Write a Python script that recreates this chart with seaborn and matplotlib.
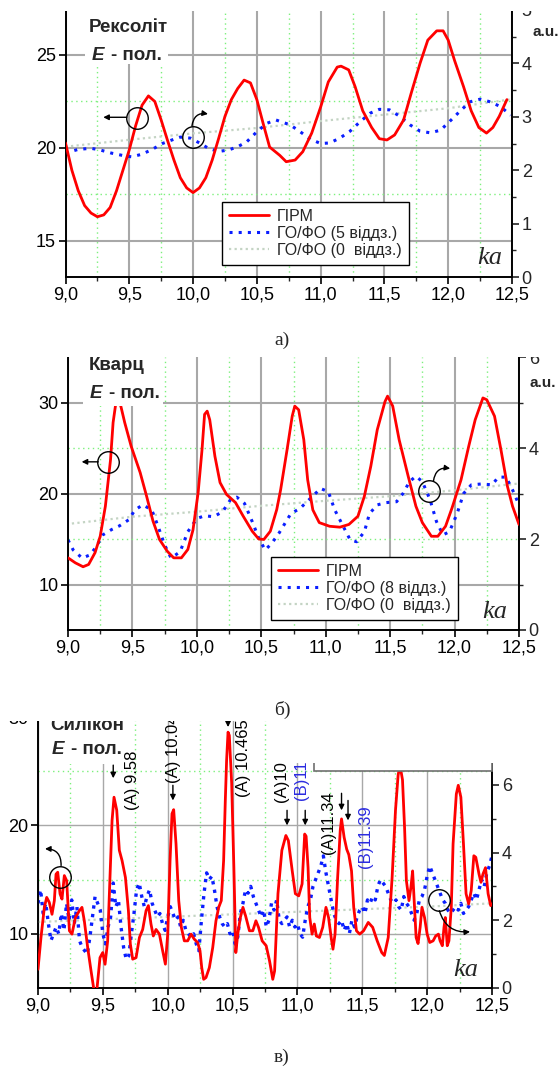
import numpy as np
import matplotlib
matplotlib.use("Agg")
import matplotlib.pyplot as plt
import seaborn as sns
from matplotlib.patches import Rectangle
from matplotlib.lines import Line2D
from matplotlib.ticker import MultipleLocator, FuncFormatter, FixedLocator

# ---------------- data ----------------
# panel a (Рексоліт)
a_red_x = [9.0, 9.05, 9.1, 9.15, 9.2, 9.25, 9.3, 9.35, 9.4, 9.45, 9.5, 9.55, 9.6, 9.65, 9.7, 9.75,
           9.8, 9.85, 9.9, 9.95, 10.0, 10.05, 10.1, 10.15, 10.2, 10.25, 10.3, 10.35, 10.4, 10.45,
           10.5, 10.55, 10.6, 10.68, 10.73, 10.8, 10.86, 10.93, 11.0, 11.06, 11.13, 11.16, 11.22,
           11.27, 11.33, 11.4, 11.46, 11.52, 11.58, 11.65, 11.71, 11.78, 11.84, 11.91, 11.96, 12.0,
           12.05, 12.12, 12.18, 12.24, 12.3, 12.35, 12.4, 12.46]
a_red_y = [20.27, 18.8, 17.7, 16.9, 16.5, 16.3, 16.4, 16.8, 17.7, 18.8, 19.9, 21.2, 22.3, 22.8, 22.5,
           21.5, 20.4, 19.35, 18.4, 17.85, 17.6, 17.85, 18.4, 19.35, 20.5, 21.7, 22.6, 23.2, 23.65,
           23.5, 22.6, 21.3, 20.05, 19.6, 19.26, 19.35, 19.8, 20.8, 22.2, 23.55, 24.35, 24.4, 24.2,
           23.3, 22.0, 21.1, 20.5, 20.43, 20.7, 21.5, 22.95, 24.57, 25.8, 26.3, 26.3, 25.8, 24.7,
           23.3, 22.0, 21.1, 20.8, 21.1, 21.7, 22.6]
a_blue_x = [9.0, 9.1, 9.2, 9.27, 9.36, 9.46, 9.52, 9.6, 9.68, 9.76, 9.85, 9.9, 9.98, 10.05, 10.12,
            10.2, 10.28, 10.35, 10.42, 10.5, 10.58, 10.65, 10.76, 10.84, 10.92, 11.0, 11.07, 11.15,
            11.23, 11.31, 11.39, 11.46, 11.54, 11.62, 11.7, 11.78, 11.86, 11.94, 12.01, 12.09,
            12.17, 12.25, 12.33, 12.41, 12.49]
a_blue_y = [2.32, 2.39, 2.41, 2.38, 2.32, 2.27, 2.25, 2.3, 2.39, 2.5, 2.58, 2.62, 2.6, 2.51, 2.41,
            2.35, 2.38, 2.44, 2.53, 2.72, 2.88, 2.94, 2.85, 2.72, 2.58, 2.5, 2.51, 2.6, 2.73, 2.91,
            3.07, 3.14, 3.13, 3.01, 2.85, 2.73, 2.7, 2.75, 2.91, 3.1, 3.28, 3.33, 3.28, 3.19, 3.03]
a_gray_x = [9.0, 9.5, 10.0, 10.5, 11.0, 11.5, 12.0, 12.5]
a_gray_y = [2.44, 2.57, 2.69, 2.79, 2.92, 3.04, 3.16, 3.33]

# panel b (Кварц)
b_red_x = [9.0, 9.057, 9.117, 9.16, 9.21, 9.25, 9.29, 9.33, 9.35, 9.37, 9.39, 9.41, 9.44, 9.49,
           9.56, 9.61, 9.66, 9.71, 9.77, 9.82, 9.88, 9.93, 9.97, 10.01, 10.04, 10.06, 10.08, 10.1,
           10.14, 10.18, 10.23, 10.3, 10.36, 10.43, 10.48, 10.52, 10.57, 10.62, 10.65, 10.7, 10.74,
           10.76, 10.79, 10.83, 10.86, 10.9, 10.95, 11.03, 11.11, 11.18, 11.25, 11.3, 11.35, 11.4,
           11.46, 11.48, 11.52, 11.57, 11.64, 11.7, 11.75, 11.82, 11.87, 11.93, 11.98, 12.05,
           12.11, 12.16, 12.22, 12.25, 12.31, 12.36, 12.41, 12.45, 12.5]
b_red_y = [12.93, 12.38, 11.95, 12.2, 13.5, 15.3, 18.6, 23.7, 27.8, 29.8, 30.2, 29.6, 27.8, 25.2,
           22.3, 19.7, 16.95, 14.95, 13.66, 12.93, 12.93, 13.85, 16.0, 20.1, 24.8, 28.7, 29.05,
           28.1, 24.1, 21.2, 19.9, 19.0, 17.5, 15.85, 15.0, 14.95, 15.85, 18.24, 20.4, 24.8, 28.5,
           29.6, 29.2, 25.9, 21.5, 18.2, 16.8, 16.4, 16.3, 16.6, 17.5, 19.7, 23.0, 27.0, 30.1, 30.7,
           29.6, 25.9, 21.9, 18.6, 16.8, 15.3, 15.3, 16.4, 18.4, 21.5, 25.2, 28.1, 30.5, 30.3, 28.5,
           24.8, 20.8, 18.6, 16.6]
b_blue_x = [9.0, 9.04, 9.11, 9.17, 9.22, 9.27, 9.34, 9.4, 9.47, 9.52, 9.58, 9.65, 9.7, 9.75, 9.8,
            9.87, 9.93, 10.0, 10.06, 10.13, 10.2, 10.26, 10.31, 10.37, 10.43, 10.48, 10.53, 10.58,
            10.64, 10.73, 10.8, 10.88, 10.96, 11.02, 11.07, 11.13, 11.19, 11.24, 11.3, 11.34, 11.4,
            11.47, 11.55, 11.6, 11.65, 11.7, 11.75, 11.81, 11.86, 11.91, 11.96, 12.02, 12.07,
            12.13, 12.21, 12.29, 12.34, 12.4, 12.45, 12.5]
b_blue_y = [1.98, 1.76, 1.58, 1.65, 1.83, 2.09, 2.21, 2.29, 2.42, 2.64, 2.75, 2.64, 2.27, 1.87,
            1.58, 1.72, 2.16, 2.45, 2.51, 2.49, 2.6, 2.86, 2.92, 2.78, 2.38, 2.02, 1.76, 1.9, 2.14,
            2.56, 2.67, 2.89, 3.11, 3.04, 2.64, 2.31, 1.98, 1.94, 2.16, 2.56, 2.75, 2.8, 2.82, 3.0,
            3.26, 3.38, 3.26, 2.86, 2.38, 2.09, 2.16, 2.56, 3.0, 3.19, 3.21, 3.19, 3.36, 3.36, 3.08,
            2.75]
b_gray_x = [9.03, 9.5, 10.0, 10.5, 11.0, 11.5, 12.0, 12.5]
b_gray_y = [2.34, 2.49, 2.6, 2.73, 2.84, 2.94, 3.07, 3.22]

# panel c (Силікон)
c_red_x = [9.0, 9.023, 9.049, 9.067, 9.087, 9.108, 9.126, 9.139, 9.152, 9.17, 9.185, 9.203, 9.221,
           9.242, 9.262, 9.288, 9.319, 9.339, 9.357, 9.383, 9.409, 9.434, 9.452, 9.478, 9.499,
           9.517, 9.537, 9.555, 9.571, 9.586, 9.607, 9.627, 9.648, 9.674, 9.697, 9.712, 9.73,
           9.756, 9.782, 9.807, 9.833, 9.851, 9.871, 9.889, 9.91, 9.936, 9.961, 9.982, 10.0,
           10.018, 10.033, 10.046, 10.064, 10.085, 10.105, 10.128, 10.154, 10.18, 10.205, 10.231,
           10.249, 10.262, 10.277, 10.295, 10.321, 10.347, 10.372, 10.393, 10.413, 10.431, 10.444,
           10.454, 10.465, 10.475, 10.493, 10.51, 10.525, 10.54, 10.56, 10.58, 10.6, 10.63, 10.656,
           10.68, 10.7, 10.728, 10.759, 10.785, 10.81, 10.824, 10.835, 10.85, 10.88, 10.911, 10.93,
           10.96, 10.984, 11.01, 11.036, 11.056, 11.067, 11.082, 11.095, 11.113, 11.13, 11.146,
           11.17, 11.195, 11.22, 11.24, 11.26, 11.274, 11.29, 11.31, 11.33, 11.34, 11.36, 11.38,
           11.396, 11.417, 11.434, 11.455, 11.48, 11.51, 11.546, 11.58, 11.615, 11.65, 11.67, 11.7,
           11.73, 11.756, 11.776, 11.79, 11.81, 11.826, 11.84, 11.86, 11.875, 11.888, 11.9, 11.915,
           11.93, 11.946, 11.96, 11.98, 12.0, 12.02, 12.046, 12.066, 12.087, 12.1, 12.117, 12.13,
           12.14, 12.155, 12.168, 12.186, 12.2, 12.225, 12.24, 12.26, 12.28, 12.3, 12.32, 12.34,
           12.36, 12.375, 12.4, 12.415, 12.43, 12.45, 12.47, 12.49, 12.5]
c_red_y = [6.73, 9.66, 12.44, 13.36, 12.9, 11.8, 13.06, 15.5, 15.68, 13.68, 13.2, 15.37, 14.9,
           10.28, 9.97, 11.5, 12.13, 12.44, 11.2, 8.73, 6.57, 4.6, 4.6, 7.8, 8.27, 7.19, 9.35, 15.2,
           20.46, 22.6, 21.4, 17.7, 16.76, 15.2, 12.13, 9.05, 7.66, 7.8, 9.66, 10.4, 12.13, 12.6,
           10.9, 9.8, 10.4, 9.97, 8.43, 7.2, 9.97, 16.76, 21.08, 21.45, 18.3, 13.06, 10.6, 9.35,
           9.35, 9.97, 9.5, 9.2, 8.43, 6.9, 5.8, 5.96, 6.88, 8.73, 11.2, 12.44, 13.06, 16.76, 22.3,
           26.0, 28.6, 28.3, 23.9, 16.1, 8.27, 9.97, 11.5, 12.44, 11.67, 10.28, 10.28, 11.2, 10.6,
           9.35, 8.9, 7.5, 5.8, 6.57, 9.66, 13.7, 17.7, 19.07, 18.6, 15.8, 13.7, 13.5, 14.6, 19.2,
           19.0, 16.1, 11.5, 9.97, 10.9, 9.8, 9.66, 10.6, 12.44, 11.5, 9.66, 8.58, 9.97, 15.2,
           19.54, 20.6, 18.9, 17.8, 17.3, 15.8, 12.44, 10.28, 9.97, 10.28, 11.05, 10.6, 9.35, 8.27,
           8.0, 9.66, 15.2, 21.4, 24.6, 25.6, 24.2, 19.8, 14.9, 13.06, 14.3, 15.8, 13.06, 9.66, 9.1,
           10.6, 12.44, 11.5, 9.97, 9.2, 9.35, 9.8, 9.97, 9.35, 8.9, 10.6, 11.5, 8.9, 9.35, 12.44,
           18.3, 22.9, 23.7, 22.6, 18.3, 13.7, 12.75, 14.0, 17.2, 17.06, 15.5, 14.75, 15.5, 16.1,
           13.7, 12.6, 12.75]
# blue series sampled every 0.02 from 9.00 to 12.50
c_blue_y = [2.5, 2.9, 2.2, 2.5, 1.9, 1.4, 1.6, 1.8, 1.6, 2.2,
            1.7, 2.5, 2.0, 2.6, 1.9, 2.4, 1.4, 1.2, 1.1, 1.0,
            1.5, 2.1, 2.7, 2.5, 2.3, 1.6, 1.3, 1.8, 2.1, 3.1,
            2.4, 2.6, 1.8, 1.2, 0.85, 0.95, 1.6, 2.2, 2.9, 3.1,
            2.7, 2.4, 2.7, 2.9, 2.5, 2.3, 2.1, 2.2, 1.9, 1.7,
            2.1, 2.4, 2.2, 2.0, 2.1, 1.8, 2.0, 1.7, 1.6, 1.5,
            1.6, 1.3, 1.1, 2.0, 2.8, 3.4, 3.2, 3.3, 2.9, 2.4,
            2.1, 1.9, 1.8, 1.9, 1.6, 1.7, 1.3, 1.5, 2.2, 2.5,
            2.9, 2.8, 3.0, 2.7, 2.5, 2.3, 2.1, 2.3, 1.8, 2.0,
            2.5, 2.3, 2.6, 2.0, 1.9, 2.0, 2.1, 1.8, 2.0, 1.8,
            1.9, 1.6, 1.5, 2.0, 2.4, 2.6, 3.0, 3.2, 3.4, 3.6,
            3.9, 3.4, 3.0, 2.6, 2.2, 2.0, 1.9, 2.0, 1.7, 1.9,
            1.6, 2.0, 1.8, 2.1, 2.3, 2.4, 2.2, 2.6, 2.5, 2.7,
            2.6, 3.0, 3.2, 3.1, 3.0, 2.8, 2.6, 2.5, 2.6, 2.4,
            2.3, 2.7, 2.5, 2.4, 2.2, 2.0, 2.2, 2.6, 2.7, 2.9,
            3.3, 3.6, 3.4, 3.2, 3.0, 2.8, 2.6, 2.5, 2.3, 2.2,
            2.3, 2.4, 2.3, 2.5, 2.2, 2.3, 2.4, 2.6, 2.8, 2.6,
            2.9, 3.2, 3.0, 3.4, 3.6, 3.9]
c_blue_x = list(np.round(np.linspace(9.0, 12.5, len(c_blue_y)), 3))
c_gray_x = [9.0, 10.0, 11.0, 12.0, 12.5]
c_gray_y = [1.95, 2.1, 2.25, 2.4, 2.5]

legend_a = ["ГІРМ", "ГО/ФО (5 віддз.)", "ГО/ФО (0  віддз.)"]
legend_b = ["ГІРМ", "ГО/ФО (8 віддз.)", "ГО/ФО (0  віддз.)"]

# ---------------- style ----------------
W, H = 559, 1073
sns.set_theme(style="ticks")
plt.rcParams["font.family"] = ["Liberation Sans", "DejaVu Sans"]
plt.rcParams["axes.linewidth"] = 1.2

RED = "#ff0000"
BLUE = "#0a1eff"
GRAY = "#c4d4c4"
GRID_MAJ = "#a8a8a8"
GRID_MIN = "#7cf07c"

fig = plt.figure(figsize=(W / 100, H / 100), dpi=100)


def rect(l, r, t, b):
    return [l / W, 1 - b / H, (r - l) / W, (b - t) / H]


def fx(px):
    return px / W


def fy(py):
    return 1 - py / H


comma = FuncFormatter(lambda v, p: f"{v:.1f}".replace(".", ","))


def make_panel(r, ylim_l, ylim_r, lticks, lminor, rticks, rminor, grid_lw=1.5):
    ax = fig.add_axes(rect(*r))
    ax2 = ax.twinx()
    ax3 = ax.twinx()
    for a in (ax, ax2, ax3):
        a.set_xlim(9.0, 12.5)
    ax.set_ylim(*ylim_l)
    ax3.set_ylim(*ylim_l)
    ax2.set_ylim(*ylim_r)
    ax.xaxis.set_major_locator(MultipleLocator(0.5))
    ax.xaxis.set_minor_locator(MultipleLocator(0.25))
    ax.xaxis.set_major_formatter(comma)
    ax.yaxis.set_major_locator(FixedLocator(lticks))
    ax.yaxis.set_minor_locator(FixedLocator(lminor))
    ax2.yaxis.set_major_locator(FixedLocator(rticks))
    ax2.yaxis.set_minor_locator(FixedLocator(rminor))
    ax.grid(True, which="major", color=GRID_MAJ, lw=grid_lw)
    ax.grid(True, which="minor", color=GRID_MIN, lw=1.0, ls=(0, (1, 2.5)))
    for a in (ax, ax2):
        a.spines["top"].set_visible(False)
        for s in ("left", "right", "bottom"):
            a.spines[s].set_color("black")
            a.spines[s].set_linewidth(1.2)
    ax.tick_params(axis="both", which="major", direction="out", length=5, width=1.2,
                   labelsize=13, colors="black", pad=2)
    ax.tick_params(axis="x", which="minor", direction="out", length=3, width=1.0)
    ax.tick_params(axis="y", which="minor", length=0)
    ax2.tick_params(axis="y", which="major", direction="out", length=5, width=1.2,
                    labelsize=13, pad=2)
    ax2.tick_params(axis="y", which="minor", direction="out", length=3, width=1.0)
    ax3.set_axis_off()
    return ax, ax2, ax3


def draw_lines(ax, ax2, ax3, rx, ry, bx, by, gx, gy, blue_lw=2.2, red_lw=2.0,
               blue_ls=(0, (1, 2))):
    sns.lineplot(x=gx, y=gy, ax=ax2, color=GRAY, lw=1.6, ls=(0, (1, 1.5)), errorbar=None)
    sns.lineplot(x=bx, y=by, ax=ax2, color=BLUE, lw=blue_lw, ls=blue_ls, errorbar=None)
    sns.lineplot(x=rx, y=ry, ax=ax3, color=RED, lw=red_lw, errorbar=None)
    for a in (ax, ax2, ax3):
        a.set_xlabel("")
        a.set_ylabel("")
        a.set_xlim(9.0, 12.5)


def white_box(l, r, t, b, z=5, ec="none", lw=0):
    fig.add_artist(Rectangle((fx(l), fy(b)), (r - l) / W, (b - t) / H, transform=fig.transFigure,
                             facecolor="white", edgecolor=ec, lw=lw, zorder=z))


def title(px, py, name, px_e, py_e):
    fig.text(fx(px), fy(py), name, fontsize=13.5, fontweight="bold", ha="center", va="center",
             zorder=6)
    fig.text(fx(px_e), fy(py_e), "E", fontsize=13.5, fontweight="bold", style="italic",
             ha="left", va="center", zorder=6)
    fig.text(fx(px_e + 19), fy(py_e), "- пол.", fontsize=13.5, fontweight="bold", ha="left",
             va="center", zorder=6)


def ka(px, py):
    fig.text(fx(px), fy(py), "ka", fontsize=19, style="italic", family="Liberation Serif",
             ha="center", va="center", zorder=6)


def legend(ax3, labels, l, t):
    handles = [Line2D([], [], color=RED, lw=2.0),
               Line2D([], [], color=BLUE, lw=2.2, ls=(0, (1, 2))),
               Line2D([], [], color=GRAY, lw=1.6, ls=(0, (1, 1.5)))]
    lg = ax3.legend(handles, labels, loc="upper left", bbox_to_anchor=(fx(l), fy(t)),
                    bbox_transform=fig.transFigure, frameon=True, fancybox=False,
                    edgecolor="black", framealpha=1, borderaxespad=0, fontsize=11.5,
                    handlelength=2.5, labelspacing=0.12, borderpad=0.45, handletextpad=0.5)
    lg.get_frame().set_linewidth(1.0)
    lg.set_zorder(20)


def circle(ax3, x, y):
    ax3.plot([x], [y], marker="o", ms=15.5, mfc="none", mec="black", mew=1.0, zorder=10)


def arrow(ax3, x0, y0, x1, y1, rad=0.0):
    ax3.annotate("", xy=(x1, y1), xytext=(x0, y0),
                 arrowprops=dict(arrowstyle="-|>", color="black", lw=1.0, mutation_scale=8,
                                 shrinkA=0, shrinkB=0, connectionstyle=f"arc3,rad={rad}"),
                 zorder=10)


# ---------------- panel a ----------------
ax, ax2, ax3 = make_panel((65.5, 512, 10, 277), (13.06, 27.42), (0, 5),
                          [15, 20, 25], [17.5, 22.5], [0, 1, 2, 3, 4, 5],
                          [0.5, 1.5, 2.5, 3.5, 4.5])
draw_lines(ax, ax2, ax3, a_red_x, a_red_y, a_blue_x, a_blue_y, a_gray_x, a_gray_y)
legend(ax3, legend_a, 221.7, 201.7)
circle(ax3, 9.558, 21.6)
arrow(ax3, 9.48, 21.65, 9.296, 21.65)
circle(ax3, 9.997, 20.61)
arrow(ax3, 9.991, 21.18, 10.117, 21.83, rad=-0.5)
white_box(85, 168, 10, 64)
title(128, 28, "Рексоліт", 92, 55)
ka(490, 258)
fig.text(fx(546), fy(32), "a.u.", fontsize=11, fontweight="bold", ha="center", va="center")
fig.text(fx(282), fy(340), "а)", fontsize=14, family="Liberation Serif", ha="center",
         va="center", zorder=20)

# ---------------- panel b ----------------
ax, ax2, ax3 = make_panel((68, 519, 357, 630), (5, 35), (0, 6),
                          [10, 20, 30], [15, 25], [0, 2, 4, 6], [1, 3, 5])
draw_lines(ax, ax2, ax3, b_red_x, b_red_y, b_blue_x, b_blue_y, b_gray_x, b_gray_y)
legend(ax3, legend_b, 270.7, 556.7)
circle(ax3, 9.313, 23.48)
arrow(ax3, 9.235, 23.48, 9.106, 23.48)
circle(ax3, 11.805, 20.22)
arrow(ax3, 11.836, 21.36, 11.966, 22.75, rad=-0.5)
white_box(83, 163, 357, 406)
title(117, 366, "Кварц", 90, 393)
ka(495, 612)
fig.text(fx(543), fy(383), "a.u.", fontsize=11, fontweight="bold", ha="center", va="center")

# ---------------- panel c ----------------
ax, ax2, ax3 = make_panel((38, 492, 717, 988), (5, 30), (0, 8),
                          [10, 20, 30], [15, 25], [0, 2, 4, 6, 8], [1, 3, 5, 7],
                          grid_lw=1.0)
draw_lines(ax, ax2, ax3, c_red_x, c_red_y, c_blue_x, c_blue_y, c_gray_x, c_gray_y,
           blue_lw=2.4, red_lw=2.0, blue_ls=(0, (1, 1.6)))
circle(ax3, 9.17, 15.2)
arrow(ax3, 9.178, 16.3, 9.054, 17.84, rad=0.5)
circle(ax3, 12.094, 13.12)
arrow(ax3, 12.094, 12.13, 12.331, 10.19, rad=0.4)

peak_labels = [("(A) 9.58", 9.725, 21.39, "black"), ("(A) 10.04", 10.043, 23.9, "black"),
               ("(A) 10.465", 10.583, 22.6, "black"), ("(A)10.92", 10.879, 22.13, "black"),
               ("(B)11.06", 11.033, 22.3, "#2a2ae0"), ("(A)11.34", 11.238, 17.4, "black"),
               ("(B)11.39", 11.521, 16.1, "#2a2ae0")]
for s, x, y, c in peak_labels:
    ax3.text(x, y, s, rotation=90, ha="center", va="bottom", fontsize=12, color=c, zorder=8)
peak_arrows = [(9.58, 25.56, 24.35), (10.04, 23.7, 22.3), (10.465, 29.9, 29.07),
               (10.92, 21.39, 20.0), (11.06, 21.39, 20.0), (11.34, 22.96, 21.39),
               (11.39, 22.3, 20.46)]
for x, y0, y1 in peak_arrows:
    arrow(ax3, x, y0, x, y1)

white_box(40, 122, 717, 764)
fig.text(fx(50), fy(730), "Силікон", fontsize=13.5, fontweight="bold", ha="left",
         va="baseline", zorder=6)
fig.text(fx(52), fy(749), "E", fontsize=13.5, fontweight="bold", style="italic", ha="left",
         va="center", zorder=6)
fig.text(fx(71), fy(749), "- пол.", fontsize=13.5, fontweight="bold", ha="left", va="center",
         zorder=6)
ka(466, 970)

# remnants of a cropped legend box and the cropped top of panel c
white_box(314, 492, 690, 771, z=9, ec="#707070", lw=1.2)
white_box(0, W, 684, 721, z=10)
white_box(268, W, 684, 763, z=10)
fig.text(fx(282), fy(710), "б)", fontsize=14, family="Liberation Serif", ha="center",
         va="center", zorder=20)
fig.text(fx(282), fy(1057), "в)", fontsize=14, family="Liberation Serif", ha="center",
         va="center", zorder=20)

# cropped tops of panels a and b
white_box(0, W, 0, 11, z=10)
white_box(0, W, 349, 357, z=10)

fig.savefig("out.png", dpi=100)
